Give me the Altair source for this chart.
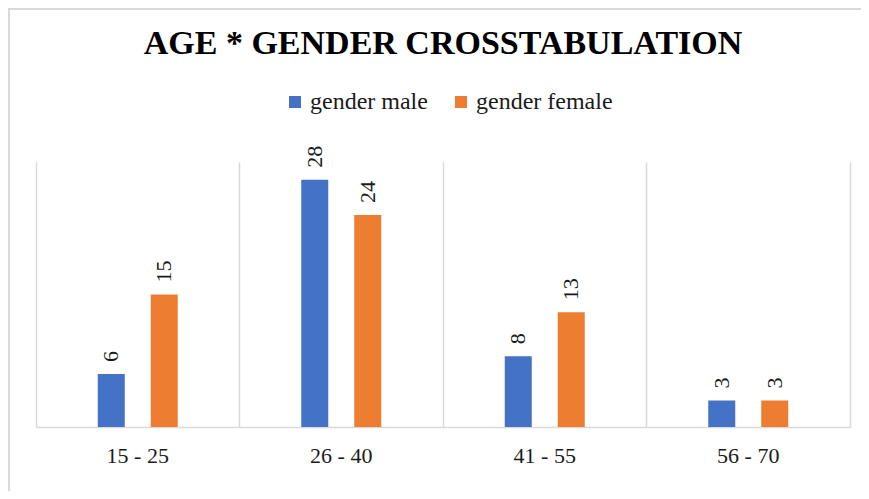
import altair as alt
import pandas as pd

age_groups = ["15 - 25", "26 - 40", "41 - 55", "56 - 70"]
male_counts = [6, 28, 8, 3]
female_counts = [15, 24, 13, 3]
series_names = ["gender male", "gender female"]
series_colors = ["#4472C4", "#ED7D31"]

rows = []
for g, m, f in zip(age_groups, male_counts, female_counts):
    rows.append({"age": g, "gender": series_names[0], "count": m})
    rows.append({"age": g, "gender": series_names[1], "count": f})
df = pd.DataFrame(rows)

FONT = "Liberation Serif"
GRID = "#D9D9D9"

x = alt.X("age:N", sort=age_groups,
          scale=alt.Scale(paddingInner=0, paddingOuter=0),
          axis=alt.Axis(title=None, labelAngle=0, labelFont=FONT, labelFontSize=22,
                        labelColor="#1a1a1a", labelPadding=18, ticks=False,
                        domainColor=GRID, domainWidth=1.5,
                        grid=True, gridColor=GRID, gridWidth=1.5, bandPosition=0))
xoff = alt.XOffset("gender:N", sort=series_names,
                   scale=alt.Scale(paddingInner=0.16, paddingOuter=1))
y = alt.Y("count:Q", scale=alt.Scale(domain=[0, 30], nice=False),
          axis=alt.Axis(orient="right", title=None, labels=False, ticks=False, grid=False,
                        domain=True, domainColor=GRID, domainWidth=1.5))
color = alt.Color("gender:N", sort=series_names,
                  scale=alt.Scale(domain=series_names, range=series_colors),
                  legend=alt.Legend(title=None, orient="none", legendX=247, legendY=-72,
                                    direction="horizontal", symbolType="square",
                                    symbolSize=144, symbolStrokeWidth=0,
                                    labelFont=FONT, labelFontSize=24, labelColor="#1a1a1a",
                                    columnPadding=21, labelOffset=3, padding=0))

base = alt.Chart(df)
bars = base.mark_bar(width=27).encode(x=x, xOffset=xoff, y=y, color=color)
labels = base.mark_text(angle=270, align="left", baseline="middle", dx=12,
                        font=FONT, fontSize=22, color="#1a1a1a").encode(
    x=x, xOffset=xoff, y=y, text="count:Q")

border_top = base.mark_rule(color=GRID, strokeWidth=2).encode(
    x=alt.value(-28), x2=alt.value(850), y=alt.value(-153))
border_left = base.mark_rule(color=GRID, strokeWidth=2).encode(
    x=alt.value(-27), y=alt.value(-154), y2=alt.value(340))

chart = alt.layer(bars, labels, border_top, border_left).properties(
    width=814, height=265,
    padding={"left": 28, "top": 154, "right": 11, "bottom": 64},
    autosize=alt.AutoSizeParams(type="none"),
    title=alt.TitleParams("AGE * GENDER CROSSTABULATION", font=FONT, fontSize=34,
                          fontWeight="bold", color="#000000", anchor="middle",
                          offset=0, baseline="alphabetic", dy=81),
).configure_view(stroke=None)

chart.save("out.html", embed_options={"renderer": "svg", "actions": False})
